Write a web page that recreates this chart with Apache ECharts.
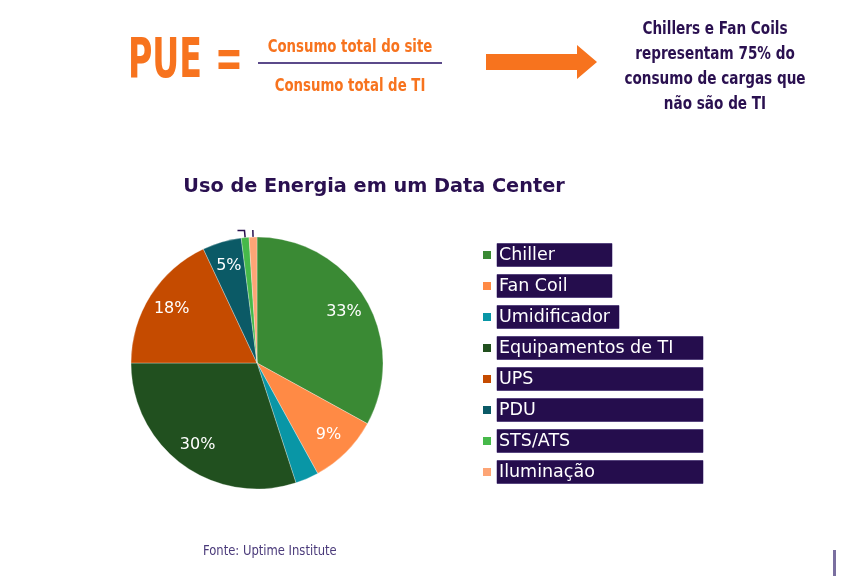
<!DOCTYPE html>
<html>
<head>
<meta charset="utf-8">
<script src="https://cdn.jsdelivr.net/npm/echarts@6/dist/echarts.min.js"></script>
<style>
html,body{margin:0;padding:0;background:#fff;}
#chart{width:867px;height:578px;}
</style>
</head>
<body>
<div id="chart"></div>
<script>
// ---- data ----
const categories = ['Chiller','Fan Coil','Umidificador','Equipamentos de TI','UPS','PDU','STS/ATS','Iluminação'];
const values = [33, 9, 3, 30, 18, 5, 1, 1];
const showPct = [true, true, false, true, true, true, false, false];
const leaderOnly = [false, false, false, false, false, false, true, true];
const colors = ['#3a8a34','#ff8a45','#0996a6','#21501f','#c54b00','#0b5a66','#46b94a','#fda576'];
const legendBoxWidths = [115, 115, 122, 206, 206, 206, 206, 206];
const titleText = 'Uso de Energia em um Data Center';
const noteLines = ['Chillers e Fan Coils','representam 75% do','consumo de cargas que','não são de TI'];
const sourceText = 'Fonte: Uptime Institute';

const purple = '#2a1050';
const orange = '#f7731e';
const condensed = '"Liberation Sans Narrow","DejaVu Sans Condensed","Roboto Condensed",sans-serif';
const wide = '"DejaVu Sans",sans-serif';

const mainData = categories.map((n, i) => {
  const d = { name: n, value: values[i], itemStyle: { color: colors[i] } };
  if (leaderOnly[i]) {
    d.label = { show: true, position: 'outside', formatter: ' ', fontSize: 4 };
    d.labelLine = { show: true, length: 7, length2: i === 6 ? 7 : 0, smooth: false,
      lineStyle: { color: purple, width: 1.5 } };
  }
  return d;
});
const labelData = categories.map((n, i) => ({
  name: n, value: values[i],
  label: { show: showPct[i] }
}));

const chart = echarts.init(document.getElementById('chart'), null, { renderer: 'canvas' });
chart.setOption({
  backgroundColor: '#ffffff',
  animation: false,
  title: {
    text: titleText,
    left: 369, top: 172, textAlign: 'center',
    textStyle: { color: purple, fontSize: 19.3, fontWeight: 'bold', fontFamily: wide }
  },
  legend: {
    orient: 'vertical',
    left: 476, top: 238,
    itemWidth: 10, itemHeight: 10, itemGap: 7,
    icon: 'rect',
    selectedMode: false,
    data: categories.map((n, i) => ({
      name: n,
      textStyle: {
        color: '#ffffff', fontSize: 17.5, fontFamily: wide,
        backgroundColor: '#250d4d', padding: [1, 3, 0, 2],
        width: legendBoxWidths[i] - 5, height: 22, lineHeight: 22,
        borderColor: '#8a7fb0', borderWidth: 0.5
      }
    }))
  },
  series: [
    {
      type: 'pie',
      name: 'main',
      center: [257, 363],
      radius: [0, 126],
      startAngle: 90,
      clockwise: true,
      avoidLabelOverlap: false,
      label: { show: false },
      labelLine: { show: false },
      itemStyle: { borderColor: '#ffffff', borderWidth: 0.3 },
      emphasis: { disabled: true },
      data: mainData
    },
    {
      type: 'pie',
      name: 'labels',
      center: [257, 363],
      radius: [70, 126],
      startAngle: 90,
      clockwise: true,
      silent: true,
      avoidLabelOverlap: false,
      itemStyle: { color: 'rgba(0,0,0,0)' },
      label: {
        position: 'inside',
        color: '#ffffff', fontSize: 16, fontFamily: wide,
        formatter: p => p.value + '%'
      },
      labelLine: { show: false },
      emphasis: { disabled: true },
      data: labelData
    }
  ],
  graphic: [
    { type: 'text', x: 128, y: 62, scaleX: 0.66,
      style: { text: 'PUE', fill: orange, font: 'bold 56px ' + condensed,
        textAlign: 'left', textVerticalAlign: 'middle' } },
    { type: 'text', x: 215, y: 62, scaleX: 0.66,
      style: { text: '=', fill: orange, font: 'bold 56px ' + condensed,
        textAlign: 'left', textVerticalAlign: 'middle' } },
    { type: 'text', x: 350, y: 48, scaleX: 0.87,
      style: { text: 'Consumo total do site', fill: orange, font: 'bold 17px ' + condensed,
        textAlign: 'center', textVerticalAlign: 'middle' } },
    { type: 'line', shape: { x1: 258, y1: 63, x2: 442, y2: 63 },
      style: { stroke: '#5b4a8a', lineWidth: 2 } },
    { type: 'text', x: 350, y: 87, scaleX: 0.87,
      style: { text: 'Consumo total de TI', fill: orange, font: 'bold 17px ' + condensed,
        textAlign: 'center', textVerticalAlign: 'middle' } },
    { type: 'polygon',
      shape: { points: [[486, 54], [577, 54], [577, 45], [597, 62], [577, 79], [577, 70], [486, 70]] },
      style: { fill: orange } },
    ...noteLines.map((t, i) => ({
      type: 'text', x: 715, y: 29 + i * 25, scaleX: 0.84,
      style: { text: t, fill: purple, font: 'bold 18px ' + condensed,
        textAlign: 'center', textVerticalAlign: 'middle' }
    })),
    { type: 'text', x: 203, y: 551, scaleX: 0.92,
      style: { text: sourceText, fill: '#4a3a7a', font: '14px ' + condensed,
        textAlign: 'left', textVerticalAlign: 'middle' } },
    { type: 'rect', shape: { x: 833, y: 550, width: 3, height: 26 },
      style: { fill: '#7a6fa0' } }
  ]
});
</script>
</body>
</html>
